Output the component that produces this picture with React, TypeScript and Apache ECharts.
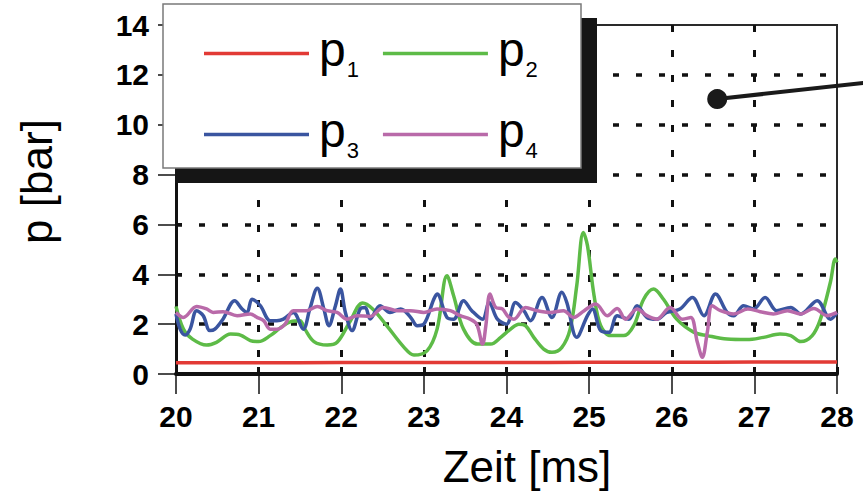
import React, { useEffect, useRef } from 'react';
import * as echarts from 'echarts';

const FONT = "'Liberation Sans', Arial, Helvetica, sans-serif";

// axis ranges
const xMin = 20;
const xMax = 28;
const xStep = 1;
const yMin = 0;
const yMax = 14;
const yStep = 2;

const seriesNames = ['p1', 'p2', 'p3', 'p4'];
const seriesColors = ['#e23a35', '#5dbb47', '#3a55a0', '#b96aa9'];

// p1 (red)
const p1Time = [20, 21, 22, 23, 24, 25, 26, 27, 28];
const p1Values = [0.45, 0.45, 0.46, 0.46, 0.46, 0.47, 0.47, 0.48, 0.48];

// p2 (green)
const p2Time = [20.0, 20.09, 20.2, 20.37, 20.49, 20.66, 20.78, 20.9, 21.0, 21.14, 21.27, 21.39, 21.5, 21.56, 21.67, 21.83, 21.95, 22.1, 22.26, 22.38, 22.55, 22.76, 22.88, 23.04, 23.16, 23.28, 23.36, 23.48, 23.65, 23.81, 23.93, 24.05, 24.15, 24.23, 24.33, 24.45, 24.55, 24.67, 24.77, 24.85, 24.93, 24.98, 25.06, 25.14, 25.26, 25.42, 25.54, 25.66, 25.78, 25.9, 26.06, 26.27, 26.43, 26.67, 26.91, 27.11, 27.31, 27.44, 27.56, 27.7, 27.8, 27.92, 27.98, 28.0];
const p2Values = [2.71, 1.8, 1.4, 1.16, 1.27, 1.6, 1.56, 1.34, 1.3, 1.54, 1.87, 2.1, 2.14, 1.8, 1.3, 1.16, 1.27, 2.07, 2.85, 2.61, 1.94, 1.07, 0.76, 0.94, 1.8, 3.94, 3.14, 1.8, 1.2, 1.2, 1.47, 1.8, 2.0, 1.94, 1.47, 1.0, 0.87, 1.07, 1.8, 3.54, 5.68, 5.15, 3.14, 1.94, 1.54, 1.54, 1.94, 3.0, 3.41, 3.0, 2.2, 1.67, 1.54, 1.4, 1.38, 1.47, 1.6, 1.54, 1.3, 1.54, 2.2, 3.68, 4.61, 4.48];

// p3 (blue)
const p3Time = [20.0, 20.05, 20.11, 20.17, 20.25, 20.33, 20.41, 20.47, 20.57, 20.71, 20.8, 20.86, 20.92, 21.02, 21.14, 21.22, 21.3, 21.42, 21.54, 21.62, 21.71, 21.79, 21.85, 21.93, 21.99, 22.05, 22.13, 22.23, 22.29, 22.35, 22.47, 22.59, 22.72, 22.84, 22.92, 23.0, 23.12, 23.16, 23.28, 23.36, 23.48, 23.58, 23.71, 23.79, 23.89, 24.0, 24.11, 24.21, 24.29, 24.43, 24.55, 24.67, 24.73, 24.85, 24.98, 25.04, 25.14, 25.24, 25.34, 25.48, 25.58, 25.7, 25.82, 25.94, 26.1, 26.25, 26.39, 26.53, 26.67, 26.75, 26.87, 26.99, 27.13, 27.27, 27.44, 27.56, 27.76, 27.92, 28.0];
const p3Values = [2.41, 1.8, 1.56, 1.8, 2.54, 2.34, 1.74, 1.8, 2.21, 2.94, 2.61, 2.47, 3.0, 2.74, 2.14, 2.14, 2.2, 2.47, 1.8, 2.61, 3.44, 2.61, 1.94, 2.74, 3.41, 2.47, 1.74, 2.61, 2.67, 2.21, 2.74, 2.47, 2.61, 2.27, 1.94, 2.0, 3.0, 3.21, 2.27, 2.2, 2.94, 2.54, 2.2, 2.87, 2.2, 2.0, 2.87, 2.54, 2.14, 3.07, 2.27, 3.28, 2.87, 1.47, 2.34, 2.61, 1.74, 1.67, 2.34, 2.2, 2.74, 2.27, 2.2, 2.47, 2.61, 3.07, 2.34, 3.21, 2.47, 2.34, 2.74, 2.61, 3.07, 2.54, 2.67, 2.41, 2.94, 2.2, 2.47];

// p4 (pink)
const p4Time = [20.0, 20.09, 20.25, 20.37, 20.45, 20.57, 20.74, 20.9, 20.98, 21.06, 21.14, 21.22, 21.32, 21.42, 21.58, 21.71, 21.83, 21.95, 22.07, 22.19, 22.35, 22.51, 22.68, 22.84, 23.0, 23.16, 23.32, 23.44, 23.56, 23.64, 23.71, 23.75, 23.8, 23.87, 23.95, 24.02, 24.09, 24.23, 24.37, 24.53, 24.69, 24.81, 24.94, 25.08, 25.22, 25.34, 25.44, 25.58, 25.7, 25.82, 25.98, 26.13, 26.23, 26.31, 26.37, 26.43, 26.49, 26.59, 26.75, 26.92, 27.07, 27.23, 27.4, 27.56, 27.72, 27.88, 28.0];
const p4Values = [2.47, 2.27, 2.71, 2.61, 2.47, 2.5, 2.34, 2.41, 2.27, 2.14, 1.8, 1.8, 2.0, 2.54, 2.54, 2.71, 2.54, 2.47, 2.2, 2.34, 2.31, 2.67, 2.54, 2.54, 2.47, 2.61, 2.54, 2.34, 2.2, 2.0, 1.2, 1.94, 3.21, 2.67, 2.61, 2.3, 2.2, 2.67, 2.54, 2.47, 2.54, 2.27, 2.54, 2.81, 2.34, 2.63, 2.2, 2.61, 2.34, 2.2, 2.67, 2.2, 2.27, 1.27, 0.67, 1.67, 2.74, 2.54, 2.41, 2.61, 2.5, 2.41, 2.54, 2.41, 2.63, 2.34, 2.47];

// annotation pointer (dot and leader line end, in data units)
const pointerTime = [26.55, 28.33];
const pointerValues = [11.03, 11.68];

const times = [p1Time, p2Time, p3Time, p4Time];
const values = [p1Values, p2Values, p3Values, p4Values];

function zip(t: number[], v: number[]) {
  return t.map((x, i) => [x, v[i]]);
}

export default function App() {
  const ref = useRef<HTMLDivElement>(null);
  useEffect(() => {
    if (!ref.current) return;
    const chart = echarts.init(ref.current, undefined, { renderer: 'svg' });
    const dataSeries = seriesNames.map((name, i) => ({
      name,
      type: 'line',
      data: zip(times[i], values[i]),
      smooth: 0.35,
      showSymbol: false,
      symbol: 'none',
      lineStyle: { color: seriesColors[i], width: 3.5 },
      itemStyle: { color: seriesColors[i] },
      z: 2,
    }));
    const boxGraphics = [
      { id: 'shadow', type: 'rect', z: 8, shape: { x: 175, y: 18, width: 422, height: 165 }, style: { fill: '#151515' } },
      { id: 'box', type: 'rect', z: 9, shape: { x: 163, y: 4, width: 418, height: 164 }, style: { fill: '#ffffff', stroke: '#7a7a7a', lineWidth: 1.5 } },
    ];
    const option: any = {
      animation: false,
      backgroundColor: '#ffffff',
      grid: {
        left: 176,
        right: 26,
        top: 25,
        bottom: 118,
        show: true,
        borderColor: '#2a2a2a',
        borderWidth: 2,
        backgroundColor: 'transparent',
      },
      legend: {
        data: seriesNames,
        left: 204,
        top: 25,
        width: 360,
        padding: 0,
        itemGap: 24,
        itemWidth: 105,
        itemHeight: 3.5,
        icon: 'rect',
        selectedMode: false,
        z: 10,
        formatter: (n: string) => `{p|p}{s|${n.slice(1)}}`,
        textStyle: {
          color: '#000',
          fontFamily: FONT,
          rich: {
            p: { fontSize: 48, fontFamily: FONT, color: '#000', lineHeight: 34, padding: [0, 0, 9, 5] },
            s: { fontSize: 22, fontFamily: FONT, color: '#000', lineHeight: 12, padding: [31, 0, 0, 1] },
          },
        },
      },
      graphic: boxGraphics,
      xAxis: [
        {
          type: 'value',
          position: 'bottom',
          min: xMin,
          max: xMax,
          interval: xStep,
          name: 'Zeit [ms]',
          nameLocation: 'middle',
          nameGap: 70,
          nameTextStyle: { fontFamily: FONT, fontSize: 44, color: '#000', padding: [0, 0, 0, 41] },
          axisLine: { show: true, onZero: false, lineStyle: { color: '#111', width: 4 } },
          axisTick: { show: true, inside: false, length: 20, lineStyle: { color: '#111', width: 1.5 } },
          axisLabel: { margin: 27, fontFamily: FONT, fontSize: 30, fontWeight: 'bold', color: '#000' },
          splitLine: { show: true, showMinLine: false, showMaxLine: false, lineStyle: { color: '#111', width: 3, type: [7, 18] } },
        },
        {
          type: 'value',
          position: 'bottom',
          min: xMin,
          max: xMax,
          interval: xStep,
          axisLine: { show: false },
          axisTick: { show: true, inside: true, length: 7, lineStyle: { color: '#111', width: 3 } },
          axisLabel: { show: false },
          splitLine: { show: false },
        },
      ],
      yAxis: [
        {
          type: 'value',
          position: 'left',
          min: yMin,
          max: yMax,
          interval: yStep,
          name: 'p [bar]',
          nameLocation: 'middle',
          nameGap: 118,
          nameTextStyle: { fontFamily: FONT, fontSize: 44, color: '#000', padding: [0, 0, 0, 36] },
          axisLine: { show: true, onZero: false, lineStyle: { color: '#111', width: 3 } },
          axisTick: { show: true, inside: false, length: 18, lineStyle: { color: '#111', width: 1.5 } },
          axisLabel: { margin: 27, fontFamily: FONT, fontSize: 30, fontWeight: 'bold', color: '#000' },
          splitLine: { show: true, showMinLine: false, showMaxLine: false, lineStyle: { color: '#111', width: 3.5, type: [6, 17] } },
        },
        {
          type: 'value',
          position: 'left',
          min: yMin,
          max: yMax,
          interval: yStep,
          axisLine: { show: false },
          axisTick: { show: true, inside: true, length: 6, lineStyle: { color: '#111', width: 3 } },
          axisLabel: { show: false },
          splitLine: { show: false },
        },
      ],
      series: [
        ...dataSeries,
        {
          name: 'pointer',
          type: 'scatter',
          silent: true,
          z: 4,
          symbol: 'circle',
          symbolSize: 20,
          data: [[pointerTime[0], pointerValues[0]]],
          itemStyle: { color: '#1a1a1a', opacity: 1 },
        },
      ],
    };
    chart.setOption(option);
    const a = chart.convertToPixel({ xAxisIndex: 0, yAxisIndex: 0 }, [pointerTime[0], pointerValues[0]]) as number[];
    const b = chart.convertToPixel({ xAxisIndex: 0, yAxisIndex: 0 }, [pointerTime[1], pointerValues[1]]) as number[];
    if (a && b) {
      chart.setOption({
        graphic: [
          ...boxGraphics,
          {
            id: 'leader',
            type: 'line',
            z: 3,
            silent: true,
            shape: { x1: a[0], y1: a[1], x2: b[0], y2: b[1] },
            style: { stroke: '#1a1a1a', lineWidth: 4 },
          },
        ],
      });
    }
    return () => chart.dispose();
  }, []);
  return (
    <div
      ref={ref}
      style={{ position: 'fixed', left: 0, top: 0, width: 863, height: 493, background: '#fff' }}
    />
  );
}
